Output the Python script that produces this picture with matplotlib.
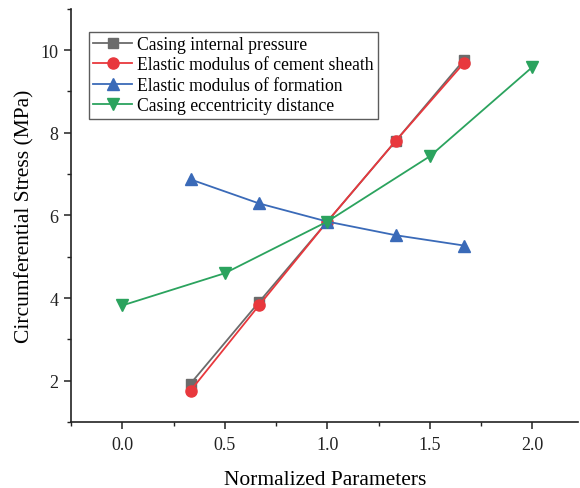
import matplotlib
matplotlib.use("Agg")
import matplotlib.pyplot as plt
from matplotlib.ticker import MultipleLocator

plt.rcParams['font.family'] = ['Liberation Serif', 'DejaVu Serif']

# data
x_thirds = [1/3, 2/3, 1.0, 4/3, 5/3]
x_halves = [0.0, 0.5, 1.0, 1.5, 2.0]
casing_pressure = [1.93, 3.90, 5.85, 7.80, 9.76]
cement_modulus = [1.76, 3.82, 5.85, 7.80, 9.69]
formation_modulus = [6.87, 6.29, 5.85, 5.52, 5.27]
eccentricity = [3.82, 4.60, 5.85, 7.43, 9.59]

fig = plt.figure(figsize=(5.8, 4.89), dpi=100)
ax = fig.add_axes([0.1224, 0.135, 0.875, 0.845])

ax.plot(x_thirds, casing_pressure, color='#6b6b6b', marker='s', ms=7, lw=1.3,
        label='Casing internal pressure')
ax.plot(x_thirds, cement_modulus, color='#e8383d', marker='o', ms=8, lw=1.3,
        label='Elastic modulus of cement sheath')
ax.plot(x_thirds, formation_modulus, color='#3a6ab8', marker='^', ms=8, lw=1.3,
        label='Elastic modulus of formation')
ax.plot(x_halves, eccentricity, color='#2ba35e', marker='v', ms=8, lw=1.3,
        label='Casing eccentricity distance')

ax.set_xlim(-0.25, 2.225)
ax.set_ylim(1, 11)
ax.xaxis.set_minor_locator(MultipleLocator(0.25))
ax.yaxis.set_minor_locator(MultipleLocator(1))
ax.set_xticks([0.0, 0.5, 1.0, 1.5, 2.0])
ax.set_xticklabels(['0.0', '0.5', '1.0', '1.5', '2.0'])
ax.set_yticks([2, 4, 6, 8, 10])

for s in ['top', 'right']:
    ax.spines[s].set_visible(False)
for s in ['left', 'bottom']:
    ax.spines[s].set_color('#222222')
    ax.spines[s].set_linewidth(1.2)
ax.tick_params(which='major', direction='out', length=5, width=1.1, labelsize=13,
               colors='#222222', pad=5)
ax.tick_params(axis='y', which='major', pad=4)
ax.tick_params(which='minor', direction='out', length=3, width=1.0, colors='#222222')

ax.set_xlabel('Normalized Parameters', fontsize=15.5, labelpad=12)
ax.set_ylabel('Circumferential Stress (MPa)', fontsize=15.5, labelpad=4)

leg = ax.legend(loc='upper left', bbox_to_anchor=(0.035, 0.945), fontsize=12.7, frameon=True,
                fancybox=False, edgecolor='#333333', handlelength=2.2, borderpad=0.25,
                labelspacing=0.2, handletextpad=0.3, borderaxespad=0)
leg.get_frame().set_linewidth(1.0)

fig.savefig('out.png', dpi=100)
